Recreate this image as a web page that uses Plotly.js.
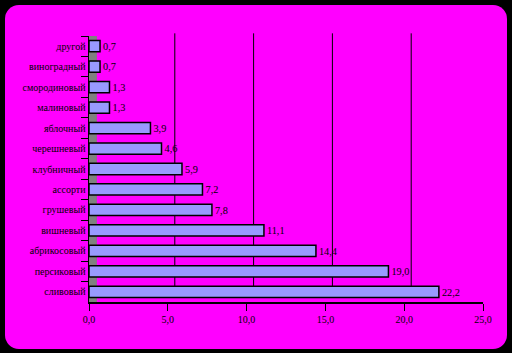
<!DOCTYPE html>
<html><head><meta charset="utf-8">
<script src="https://cdn.plot.ly/plotly-3.0.1.min.js"></script>
<style>
html,body{margin:0;padding:0;background:#000;width:512px;height:353px;overflow:hidden}
#chart{position:absolute;left:5px;top:5px;width:502px;height:344px;background:#ff00ff;border-radius:14px}
</style></head>
<body><div id="chart"></div>
<script>
const categories = ["другой","виноградный","смородиновый","малиновый","яблочный","черешневый","клубничный","ассорти","грушевый","вишневый","абрикосовый","персиковый","сливовый"];
const values = [0.7,0.7,1.3,1.3,3.9,4.6,5.9,7.2,7.8,11.1,14.4,19.0,22.2];
const tickVals = [0,5,10,15,20,25];

const trace = {
  type:'bar', orientation:'h',
  x: values, y: categories,
  marker:{color:'#9999ff', line:{color:'#000', width:1.5}},
  text: values.map(v=>v.toFixed(1).replace('.',',')),
  textposition:'outside', cliponaxis:false,
  textfont:{family:'Liberation Serif, serif', size:11, color:'#000'},
  hoverinfo:'none'
};
const gridShapes = tickVals.slice(1,5).map(v=>({
  type:'line', xref:'x', yref:'paper', xsizemode:'pixel', xanchor:v, x0:7, x1:7, y0:0.02, y1:1.01,
  line:{color:'#000', width:1}, layer:'below'
}));
const layout = {
  width:502, height:344,
  margin:{l:84, r:24, t:31, b:47},
  paper_bgcolor:'rgba(0,0,0,0)', plot_bgcolor:'rgba(0,0,0,0)',
  separators:', ',
  bargap:0.45,
  showlegend:false,
  xaxis:{range:[0,25], tickvals:tickVals, tickformat:'.1f', showgrid:false,
    showline:true, linecolor:'#000', linewidth:1.5, ticks:'outside', ticklen:7, tickcolor:'#000',
    zeroline:false, tickfont:{family:'Liberation Serif, serif', size:10, color:'#000'}},
  yaxis:{categoryorder:'array', categoryarray:categories, autorange:'reversed', tickson:'boundaries',
    showline:true, linecolor:'#000', linewidth:1.5, ticks:'outside', ticklen:7, tickcolor:'#000',
    showgrid:false, tickfont:{family:'Liberation Serif, serif', size:10, color:'#000'}},
  shapes:[{type:'rect', xref:'paper', yref:'paper', x0:0, x1:0.02, y0:0, y1:1, fillcolor:'#808080', line:{width:0}, layer:'below'}].concat(gridShapes)
};
Plotly.newPlot('chart',[trace],layout,{staticPlot:true});
</script></body></html>
